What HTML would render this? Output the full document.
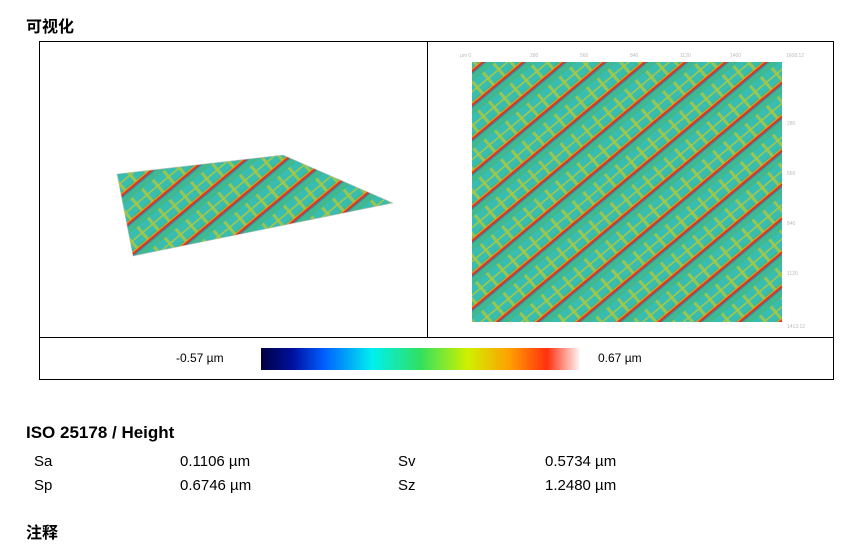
<!DOCTYPE html>
<html><head><meta charset="utf-8"><style>
body{margin:0;width:847px;height:545px;background:#fff;font-family:"Liberation Sans","Noto Sans CJK SC",sans-serif;position:relative;overflow:hidden;color:#000}
.t{position:absolute;white-space:nowrap}
</style></head><body>
<div class="t" style="left:26px;top:13px;font-size:16px;font-weight:bold">可视化</div>
<svg style="position:absolute;left:0;top:0" width="847" height="400">
<defs>
<pattern id="p" width="14" height="26" patternUnits="userSpaceOnUse" patternTransform="rotate(-40)">
<rect width="14" height="26" fill="#40b890"/>
<rect y="2" width="14" height="14" fill="#38c0c0" opacity=".7"/>
<rect x="0" y="2" width="3" height="16" fill="#a8c840" opacity=".85"/>
<rect x="0" y="9" width="14" height="1.5" fill="#a8c840"/>
<rect x="0" y="18" width="14" height="3" fill="#e8a020"/>
<rect x="0" y="19" width="14" height="2" fill="#d83820"/>
<rect x="0" y="21" width="14" height="1.2" fill="#3050c0" opacity=".5"/>
</pattern>
<linearGradient id="g" x1="0" x2="1">
<stop offset="0" stop-color="#000040"/><stop offset=".1" stop-color="#0010a0"/><stop offset=".2" stop-color="#0060ff"/><stop offset=".35" stop-color="#00f0f0"/><stop offset=".5" stop-color="#30e060"/><stop offset=".65" stop-color="#d0f000"/><stop offset=".78" stop-color="#ffa000"/><stop offset=".9" stop-color="#ff3010"/><stop offset="1" stop-color="#fff0f0"/>
</linearGradient>
</defs>
<rect x="39.5" y="41.5" width="794" height="338" fill="none" stroke="#000"/>
<line x1="427.5" y1="41" x2="427.5" y2="337" stroke="#000"/>
<line x1="39" y1="337.5" x2="834" y2="337.5" stroke="#000"/>
<polygon points="117,174 283,155 393,203 133,256" fill="url(#p)"/>
<polygon points="117,174 283,155 393,203 133,256" fill="none" stroke="#c0c0c0" stroke-width=".6"/>
<rect x="472" y="62" width="310" height="260" fill="url(#p)"/>
<g fill="#bbb" font-size="5"><text x="460" y="57">µm 0</text><text x="530" y="57">280</text><text x="580" y="57">560</text><text x="630" y="57">840</text><text x="680" y="57">1120</text><text x="730" y="57">1400</text><text x="786" y="57">1608.12</text><text x="787" y="125">280</text><text x="787" y="175">560</text><text x="787" y="225">840</text><text x="787" y="275">1120</text><text x="787" y="328">1413.12</text></g>
<rect x="261" y="348" width="318" height="22" fill="url(#g)"/>
<text x="176" y="362" font-size="12">-0.57 µm</text>
<text x="598" y="362" font-size="12">0.67 µm</text>
</svg>
<div class="t" style="left:26px;top:423px;font-size:17px;font-weight:bold">ISO 25178 / Height</div>
<div class="t" style="left:34px;top:453px;font-size:15px">Sa</div>
<div class="t" style="left:180px;top:453px;font-size:15px">0.1106 µm</div>
<div class="t" style="left:398px;top:453px;font-size:15px">Sv</div>
<div class="t" style="left:545px;top:453px;font-size:15px">0.5734 µm</div>
<div class="t" style="left:34px;top:477px;font-size:15px">Sp</div>
<div class="t" style="left:180px;top:477px;font-size:15px">0.6746 µm</div>
<div class="t" style="left:398px;top:477px;font-size:15px">Sz</div>
<div class="t" style="left:545px;top:477px;font-size:15px">1.2480 µm</div>
<div class="t" style="left:26px;top:519px;font-size:16px;font-weight:bold">注释</div>
</body></html>
